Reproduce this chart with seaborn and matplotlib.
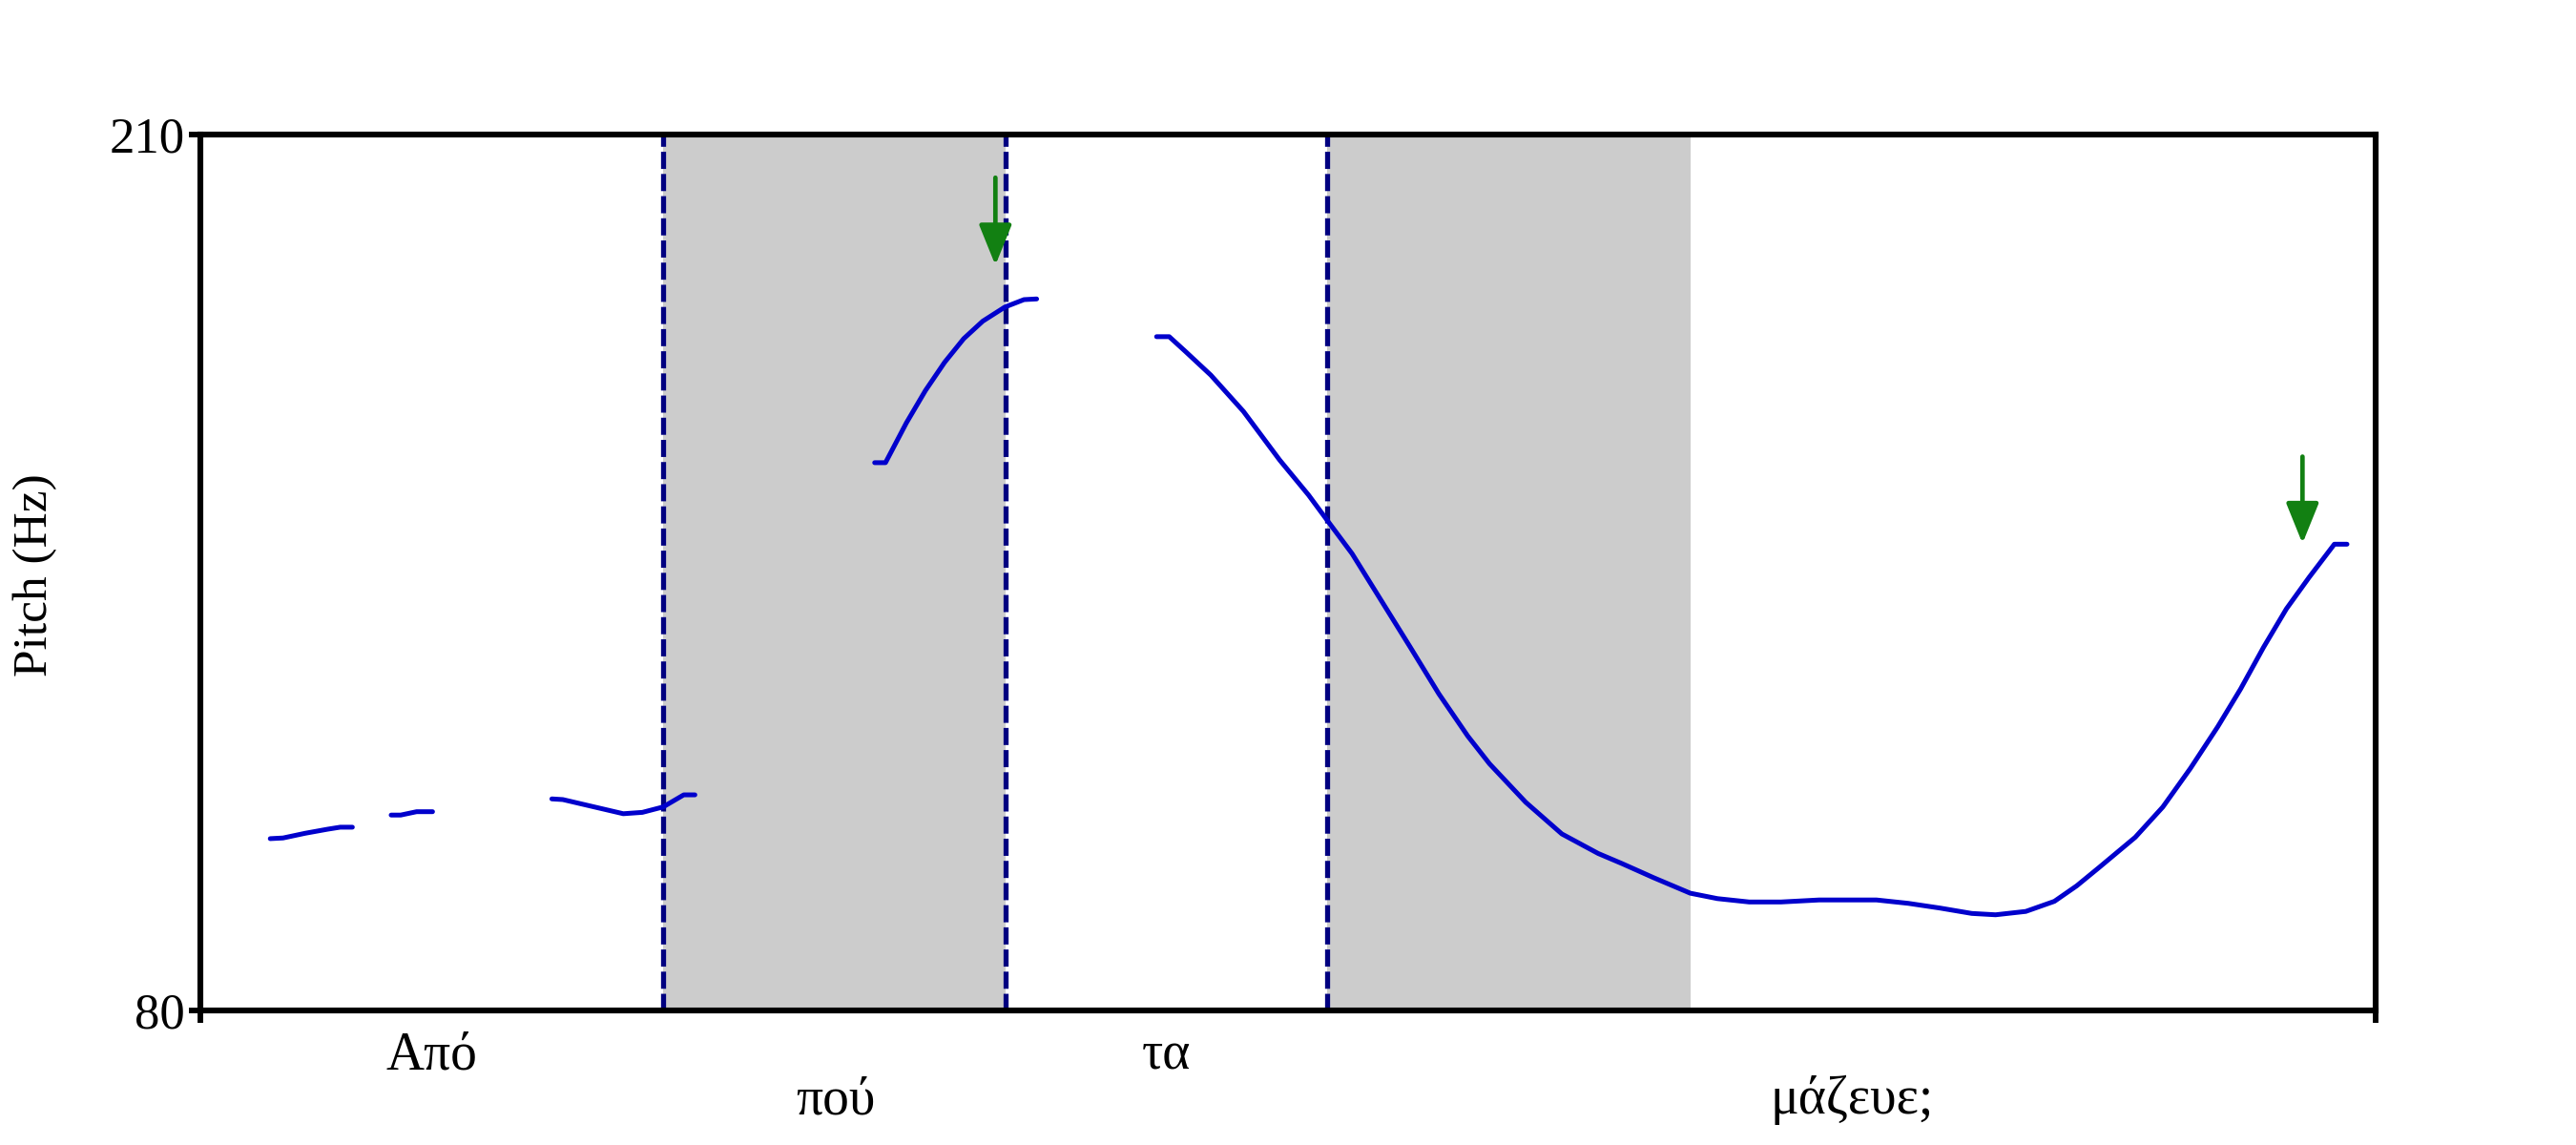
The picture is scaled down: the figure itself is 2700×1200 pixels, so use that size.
import matplotlib
matplotlib.use("Agg")
import matplotlib.pyplot as plt
import pandas as pd
import seaborn as sns

# pitch track, one list per voiced stretch (time in s, F0 in Hz)
seg_time = [
    [0.0425, 0.0503, 0.0638, 0.0774, 0.0851, 0.0925],
    [0.1161, 0.1219, 0.1316, 0.1413],
    [0.2139, 0.2206, 0.2381, 0.2574, 0.2690, 0.2816, 0.2942, 0.3010],
    [0.4104, 0.4170, 0.4297, 0.4413, 0.4530, 0.4646, 0.4762, 0.4897, 0.5013, 0.5090],
    [0.5820, 0.5897, 0.5996, 0.6150, 0.6349, 0.6569, 0.6745, 0.6860, 0.7010, 0.7186,
     0.7362, 0.7538, 0.7715, 0.7847, 0.8067, 0.8287, 0.8508, 0.8653, 0.8846, 0.9069,
     0.9234, 0.9427, 0.9621, 0.9853, 1.0202, 1.0395, 1.0588, 1.0782, 1.0927, 1.1111,
     1.1285, 1.1421, 1.1556, 1.1777, 1.1945, 1.2112, 1.2279, 1.2418, 1.2558, 1.2697,
     1.2836, 1.2989, 1.3066],
]
seg_hz = [
    [105.5, 105.6, 106.3, 106.9, 107.2, 107.2],
    [109.0, 109.0, 109.5, 109.5],
    [111.4, 111.3, 110.3, 109.2, 109.4, 110.2, 112.0, 112.0],
    [161.3, 161.3, 167.2, 172.0, 176.2, 179.7, 182.3, 184.4, 185.5, 185.6],
    [180.0, 180.0, 177.8, 174.3, 168.9, 161.7, 156.5, 152.7, 147.8, 140.9,
     134.0, 127.0, 120.7, 116.6, 110.9, 106.2, 103.3, 101.8, 99.7, 97.4,
     96.6, 96.1, 96.1, 96.4, 96.4, 95.9, 95.2, 94.4, 94.2, 94.7,
     96.2, 98.5, 101.2, 105.7, 110.2, 115.9, 122.1, 127.7, 133.9, 139.6,
     144.3, 149.2, 149.2],
]

boundaries = [0.2816, 0.4900, 0.6860]
shade_start = [0.2816, 0.6860]
shade_end = [0.4900, 0.9069]

words = ["Από", "πού", "τα", "μάζευε;"]
word_time = [0.1407, 0.3864, 0.5879, 1.0050]
word_row = [0, 1, 0, 1]

arrow_time = [0.4839, 1.2795]
arrow_top = [203.6, 162.2]
arrow_tip = [190.6, 149.3]

t_end = 1.324
y_ticks = [80, 210]

rows = []
for i, (ts, hs) in enumerate(zip(seg_time, seg_hz)):
    for t, h in zip(ts, hs):
        rows.append({"seg": i, "t": t, "hz": h})
df = pd.DataFrame(rows)

sns.set_theme(style="white")
plt.rcParams["font.family"] = ["Liberation Serif", "DejaVu Serif"]

fig = plt.figure(figsize=(27, 12), dpi=100)
ax = fig.add_axes([0.0778, 0.1175, 0.8444, 0.765])

for a, b in zip(shade_start, shade_end):
    ax.axvspan(a, b, color="#cccccc", lw=0, zorder=0)
for b in boundaries:
    ax.axvline(b, color="#000080", linewidth=3.8, dashes=(3.4, 1.0), zorder=1)

sns.lineplot(data=df, x="t", y="hz", units="seg", estimator=None, sort=False,
             color="#0000cc", linewidth=3.6, ax=ax, zorder=3)

for t, top, tip in zip(arrow_time, arrow_top, arrow_tip):
    ax.annotate("", xy=(t, tip), xytext=(t, top),
                arrowprops=dict(arrowstyle="-|>,head_length=2.6,head_width=1.05",
                                mutation_scale=10, color="#128012", lw=3.4,
                                shrinkA=0, shrinkB=0))

ax.set_xlim(0, t_end)
ax.set_ylim(y_ticks[0], y_ticks[-1])
ax.set_xticks([0, t_end])
ax.set_xticklabels(["", ""])
ax.set_yticks(y_ticks)
ax.set_xlabel("")
ax.tick_params(bottom=True, left=True, direction="out", length=9, width=4.2,
               labelsize=38, pad=3, color="black", labelcolor="black")
for s in ax.spines.values():
    s.set_color("black")
    s.set_linewidth(4.4)

ax.set_ylabel("Pitch (Hz)", fontsize=37, color="black")
ax.yaxis.set_label_coords(-0.076, 0.497)
ax.yaxis.label.set_va("center")

row_y = [-0.0675, -0.118]
for w, t, r in zip(words, word_time, word_row):
    ax.text(t, row_y[r], w, transform=ax.get_xaxis_transform(), ha="center",
            va="baseline", fontsize=40, color="black")

fig.savefig("out.png", dpi=100, facecolor="white")
plt.close(fig)
